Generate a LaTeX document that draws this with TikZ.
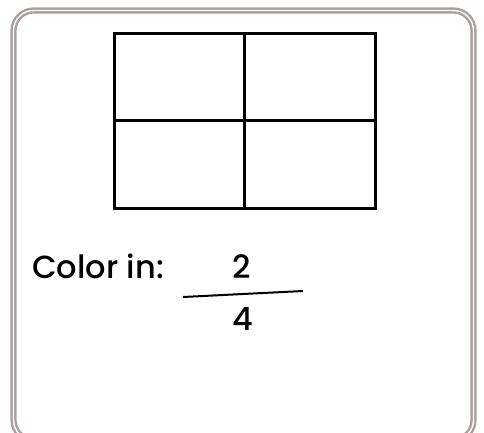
\documentclass[tikz,border=0pt]{standalone}
\usepackage{fontspec}
\setmainfont{Poppins}
\IfFontExistsTF{Poppins Medium}
  {\newfontfamily\cardfont{Poppins Medium}}
  {\newfontfamily\cardfont{Poppins}[FakeBold=1.2]}
\usetikzlibrary{positioning}

\definecolor{cardrim}{HTML}{AB9E9F}

\begin{document}
\begin{tikzpicture}[x=1pt, y=-1pt]

% Fix the page size
\useasboundingbox (0,0) rectangle (484,432);

% Draw the card outline
\begin{scope}
\clip (0,0) rectangle (484,432);
\draw[cardrim, line width=2.4pt, double=white, double distance=1.4pt, rounded corners=20pt] (13.5,10.5) rectangle (473.5,440);
\end{scope}

% Draw the grid
\draw[black, line width=3pt] (114,33) rectangle (375,208);
\draw[black, line width=3pt] (244,33) -- (244,208);
\draw[black, line width=3pt] (114,120) -- (375,120);

% Add the text
\node[anchor=base west, inner sep=0pt, font=\cardfont\fontsize{32}{36}\selectfont] (colorin) at (32,278) {Color in:};
\node[anchor=base, inner sep=0pt, font=\cardfont\fontsize{32}{36}\selectfont] (num) at (242,278) {2};
\node[anchor=base, inner sep=0pt, font=\cardfont\fontsize{32}{36}\selectfont] (den) at (243,330) {4};

% Fraction bar
\coordinate (barleft) at (183,297);
\coordinate (barright) at (303,291);
\draw[black, line width=2pt] (barleft) -- (barright);

\end{tikzpicture}
\end{document}
